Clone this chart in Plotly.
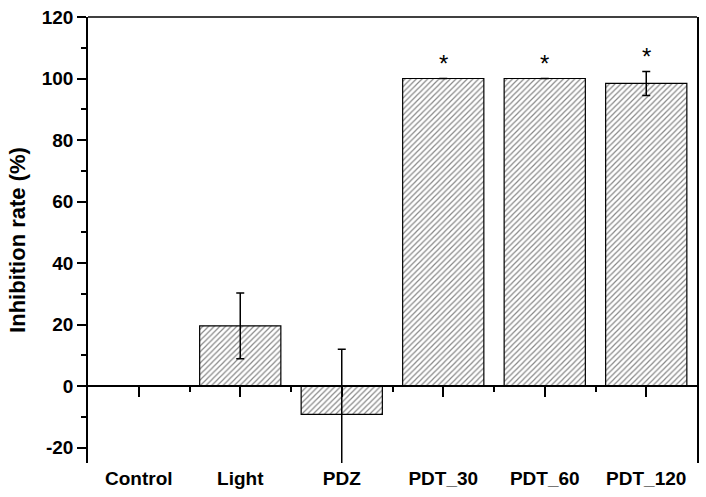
import plotly.graph_objects as go

categories = ["Control", "Light", "PDZ", "PDT_30", "PDT_60", "PDT_120"]
values = [0, 19.6, -9.2, 100, 100, 98.4]
errors = [0, 10.7, 21.2, 0, 0, 3.9]
significant = [False, False, False, True, True, True]
y_ticks = [-20, 0, 20, 40, 60, 80, 100, 120]
y_tick_labels = ["-20", "0", "20", "40", "60", "80", "100", "120"]

FONT = "Arial, Liberation Sans, sans-serif"
xpos = list(range(len(categories)))

fig = go.Figure()
fig.add_trace(go.Bar(
    x=xpos, y=values, width=0.8,
    marker=dict(color="white", line=dict(color="black", width=1.2),
                pattern=dict(shape="/", fgcolor="#111111", bgcolor="white", size=4, solidity=0.3)),
    error_y=dict(type="data", array=errors, visible=True, color="black", thickness=1.5, width=4),
    showlegend=False,
))
# zero-line axis carrier (invisible trace on xaxis2)
fig.add_trace(go.Scatter(x=[-0.5, 5.5], y=[0, 0], xaxis="x2", mode="lines",
                         line=dict(width=0), hoverinfo="skip", showlegend=False))

ymin, ymax = -25, 120
for i, (v, e, s) in enumerate(zip(values, errors, significant)):
    if s:
        fig.add_annotation(x=i, y=v + e + 5, text="*", showarrow=False,
                           font=dict(family=FONT, size=24, color="black"), yanchor="middle")

fig.update_layout(
    width=706, height=497,
    margin=dict(l=88, r=7, t=15, b=34),
    plot_bgcolor="white", paper_bgcolor="white",
    font=dict(family=FONT, color="black"),
    xaxis=dict(range=[-0.5, 5.5], tickvals=xpos, ticktext=categories, ticks="",
               showline=False, showgrid=False, zeroline=False, ticklabelstandoff=2,
               tickfont=dict(family=FONT, size=19, color="black", weight="bold")),
    xaxis2=dict(range=[-0.5, 5.5], overlaying="x", anchor="free",
                position=(0 - ymin) / (ymax - ymin),
                showline=True, linecolor="black", linewidth=1.5,
                tickvals=xpos, showticklabels=False, ticks="outside", ticklen=10,
                tickwidth=1.5, tickcolor="black", showgrid=False, zeroline=False,
                minor=dict(tickvals=[0.5, 1.5, 2.5, 3.5, 4.5], ticks="outside", ticklen=5,
                           tickwidth=1.5, tickcolor="black")),
    yaxis=dict(range=[ymin, ymax], tickvals=y_ticks, ticktext=y_tick_labels,
               ticks="outside", ticklen=9, tickwidth=1.5,
               tickcolor="black", showline=True, linecolor="black", linewidth=1.5, mirror=True,
               showgrid=False, zeroline=False,
               minor=dict(tickvals=[-10, 10, 30, 50, 70, 90, 110], ticks="outside", ticklen=5,
                          tickwidth=1.5, tickcolor="black"),
               tickfont=dict(family=FONT, size=19, color="black", weight="bold"),
               title=dict(text="Inhibition rate (%)", standoff=10,
                          font=dict(family=FONT, size=22, color="black", weight="bold"))),
    shapes=[dict(type="line", xref="paper", yref="paper", x0=0, x1=1, y0=1, y1=1,
                 line=dict(color="black", width=1.5))],
)

fig.write_html("out.html", config={"displayModeBar": False},
               post_script="document.body.style.margin='0';")
